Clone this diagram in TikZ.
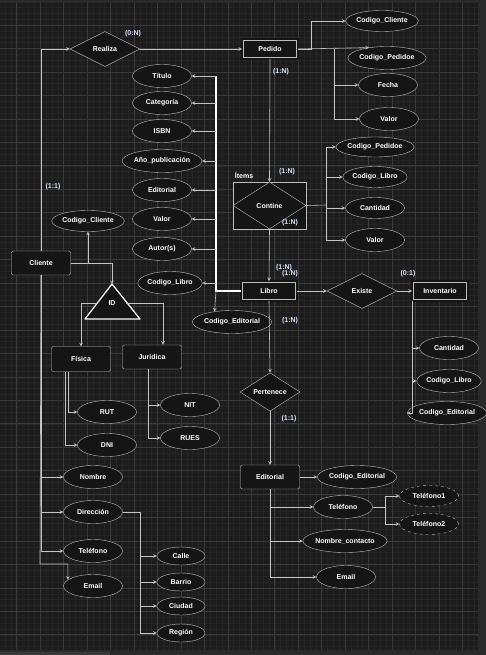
\documentclass[tikz,border=0pt]{standalone}
\usepackage{fontspec}
\setmainfont{Liberation Sans}
\usetikzlibrary{shapes.geometric}

\definecolor{framebg}{HTML}{2A2A2A}
\definecolor{canvasbg}{HTML}{1C1C1C}
\definecolor{gridmajor}{HTML}{3A3A3A}
\definecolor{gridminor}{HTML}{252525}
\definecolor{scrollbar}{HTML}{3A3A3A}
\definecolor{shapefill}{HTML}{151515}
\definecolor{shapeline}{HTML}{BDBDBD}
\definecolor{edgeline}{HTML}{C4C4C4}
\definecolor{cardtext}{HTML}{DCE4FF}

\begin{document}
\begin{tikzpicture}[>=stealth, x=1pt, y=-1pt,
    lbl/.style={font=\fontsize{7}{8}\selectfont\bfseries, text=white},
    entity/.style={lbl, draw=shapeline, fill=shapefill, rounded corners=2pt, minimum width=59pt, minimum height=24pt, inner sep=0pt},
    weak/.style={lbl, draw=shapeline, double=shapefill, double distance=2.4pt, fill=shapefill, minimum width=55.5pt, minimum height=19.5pt, inner sep=0pt},
    attr/.style={lbl, ellipse, draw=shapeline, fill=shapefill, minimum width=59pt, minimum height=23pt, inner sep=0pt},
    subattr/.style={attr, minimum width=48pt, minimum height=18pt},
    multi/.style={attr, dashed, minimum height=21pt},
    rel/.style={lbl, diamond, draw=shapeline, fill=shapefill, minimum width=70pt, minimum height=35pt, inner sep=0pt},
    card/.style={lbl, text=cardtext},
    link/.style={->, draw=edgeline, line width=0.6pt},
    trunk/.style={draw=white, line width=1.2pt}]

    % 1. Canvas with the grid
    \useasboundingbox (0,0) rectangle (486,655);
    \fill[framebg] (0,0) rectangle (486,655);
    \fill[canvasbg] (0,3) rectangle (478,650);
    \fill[scrollbar] (0,652) rectangle (110,655);
    \foreach \k in {2,...,82} \draw[gridminor, line width=0.3pt] ({-6.75+\k*5.8625},3) -- ({-6.75+\k*5.8625},650);
    \foreach \k in {1,...,110} \draw[gridminor, line width=0.3pt] (0,{1.55+\k*5.8625}) -- (478,{1.55+\k*5.8625});
    \foreach \k in {0,...,19} \draw[gridmajor, line width=0.5pt] ({16.7+\k*23.45},3) -- ({16.7+\k*23.45},650);
    \foreach \k in {1,...,27} \draw[gridmajor, line width=0.5pt] (0,{1.55+\k*23.45}) -- (478,{1.55+\k*23.45});

    % 2. Entities
    \node[entity] (cliente) at (41,263) {Cliente};
    \node[weak] (pedido) at (270,49) {Pedido};
    \node[weak] (libro) at (269,291) {Libro};
    \node[weak] (inventario) at (440,291) {Inventario};
    \node[entity] (editorial) at (270,477) {Editorial};
    \node[entity, minimum height=25pt] (fisica) at (81,359) {Física};
    \node[entity] (juridica) at (152,357) {Jurídica};

    % 3. Relationships (Ítems is the associative box round Contine)
    \node[rel] (realiza) at (105,49) {Realiza};
    \node[draw=shapeline, fill=shapefill, minimum width=73pt, minimum height=47pt] (items) at (269.5,205.5) {};
    \node[rel, minimum width=73pt, minimum height=47pt] (contine) at (items) {Contine};
    \node[lbl] (itemslbl) at (244,175) {Ítems};
    \node[rel] (existe) at (362,291) {Existe};
    \node[rel, minimum width=60pt] (pertenece) at (270,392) {Pertenece};

    % 4. The ID triangle under Cliente
    \coordinate (idtop) at (112,284);
    \coordinate (idleft) at (97,303);
    \coordinate (idright) at (127,303);
    \draw[white, line width=1.2pt, fill=shapefill, line join=round] (idtop) -- (140,319) -- (85,319) -- cycle;
    \node[lbl] (id) at (112,303) {ID};

    % 5. Attributes
    \node[attr, minimum height=21pt] (pcodcli) at (382,21) {Codigo\_Cliente};
    \node[attr] (pcodped) at (387,58) {Codigo\_Pedidoe};
    \node[attr] (pfecha) at (388,85) {Fecha};
    \node[attr] (pvalor) at (389,119) {Valor};

    \node[attr, minimum height=20pt] (ccodped) at (375,147) {Codigo\_Pedidoe};
    \node[attr, minimum height=21pt] (ccodlib) at (375,177) {Codigo\_Libro};
    \node[attr, minimum height=21pt] (ccant) at (375,208) {Cantidad};
    \node[attr] (cvalor) at (375,240) {Valor};

    \node[attr] (titulo) at (162,76) {Título};
    \node[attr] (categoria) at (162,103) {Categoría};
    \node[attr] (isbn) at (162,131) {ISBN};
    \node[attr] (anio) at (162,161) {Año\_publicación};
    \node[attr] (leditorial) at (162,190) {Editorial};
    \node[attr] (lvalor) at (162,219) {Valor};
    \node[attr] (autor) at (162,249) {Autor(s)};
    \node[attr] (lcodlib) at (170,283) {Codigo\_Libro};
    \node[attr] (lcodedit) at (232,322) {Codigo\_Editorial};

    \node[attr] (icant) at (449,348) {Cantidad};
    \node[attr] (icodlib) at (449,381) {Codigo\_Libro};
    \node[attr] (icodedit) at (447,413) {Codigo\_Editorial};

    \node[attr] (ecodedit) at (357,477) {Codigo\_Editorial};
    \node[attr] (etel) at (343,507) {Teléfono};
    \node[attr] (enombre) at (345,541) {Nombre\_contacto};
    \node[attr] (eemail) at (346,577) {Email};
    \node[multi] (tel1) at (429,496) {Teléfono1};
    \node[multi] (tel2) at (429,524) {Teléfono2};

    \node[attr, minimum height=21pt] (ccodcli) at (88,221) {Codigo\_Cliente};
    \node[attr] (rut) at (107,412) {RUT};
    \node[attr] (dni) at (107,445) {DNI};
    \node[attr] (nit) at (190,405) {NIT};
    \node[attr] (rues) at (190,438) {RUES};

    \node[attr] (nombre) at (93,477) {Nombre};
    \node[attr] (direccion) at (93,512) {Dirección};
    \node[attr] (ctel) at (93,551) {Teléfono};
    \node[attr] (cemail) at (93,586) {Email};
    \node[subattr] (calle) at (181,556) {Calle};
    \node[subattr] (barrio) at (181,582) {Barrio};
    \node[subattr] (ciudad) at (181,606) {Ciudad};
    \node[subattr] (region) at (181,633) {Región};

    % 6. Junction points
    \coordinate (pj) at (311,49);
    \coordinate (pk) at (334,49);
    \coordinate (cj) at (326,205);
    \coordinate (lj) at (216,291);
    \coordinate (ej) at (270,577);
    \coordinate (tj) at (385,507);
    \coordinate (cbend) at (40,564);
    \coordinate (dj) at (140,512);

    % 7. Connectors
    \draw[link] (cliente.north) |- (realiza.west);
    \draw[link] (realiza.east) -- (pedido.west);
    \draw[link] (pedido.east) -- (pj) |- (pcodcli.west);
    \draw[link] (pedido.east) -- (pcodped.150);
    \draw[link] (pk) |- (pfecha.west);
    \draw[link] (pk) |- (pvalor.west);
    \draw[link] (pedido.south) -- (items.north);

    \draw[draw=edgeline, line width=0.6pt] (contine.east) -- (cj);
    \draw[link] (cj) |- (ccodped.west);
    \draw[link] (cj) |- (ccodlib.west);
    \draw[link] (cj) |- (ccant.west);
    \draw[link] (cj) |- (cvalor.west);
    \draw[link] (contine.south) -- (libro.north);

    \draw[trunk] (libro.west) -- (lj) -- (titulo.east -| lj);
    \foreach \a in {titulo, categoria, isbn, anio, leditorial, lvalor, autor, lcodlib}
        \draw[link] (\a.east -| lj) -- (\a.east);
    \draw[link] (lj) -- (lcodedit.149);

    \draw[link] (libro.east) -- (existe.west);
    \draw[link] (existe.east) -- (inventario.west);
    \draw[link] (inventario.south west) |- (icant.west);
    \draw[link] (inventario.south west) |- (icodlib.west);
    \draw[link] (inventario.south west) |- (icodedit.west);

    \draw[link] (libro.south) -- (pertenece.north);
    \draw[link] (pertenece.south) -- (editorial.north);
    \draw[link] (editorial.east) -- (ecodedit.west);
    \draw[draw=edgeline, line width=0.6pt] (editorial.south) -- (ej);
    \draw[link] (etel.west -| ej) -- (etel.west);
    \draw[link] (enombre.west -| ej) -- (enombre.west);
    \draw[link] (ej) -- (eemail.west);
    \draw[draw=edgeline, line width=0.6pt] (etel.east) -- (tj);
    \draw[link] (tj) |- (tel1.west);
    \draw[link] (tj) |- (tel2.west);

    \draw[link] (cliente.east) -| (ccodcli.south);
    \draw[link] (cliente.east) -| (idtop);
    \draw[link] (idleft) -| (fisica.north);
    \draw[link] ([xshift=-1pt]idright) -| ([xshift=11pt]juridica.north);
    \draw[link] ([xshift=-13pt]fisica.south) |- (rut.west);
    \draw[link] ([xshift=-16pt]fisica.south) |- (dni.west);
    \draw[link] ([xshift=-4pt]juridica.south) |- (nit.west);
    \draw[link] ([xshift=-4pt]juridica.south) |- (rues.west);

    \draw[link] (cliente.south) |- (nombre.west);
    \draw[link] (cliente.south) |- (direccion.west);
    \draw[link] (cliente.south) |- (ctel.west);
    \draw[link] (cliente.south) -- (cbend) -| (cemail.166);
    \draw[link] (direccion.east) -- (dj) |- (calle.west);
    \draw[link] (dj) |- (barrio.west);
    \draw[link] (dj) |- (ciudad.west);
    \draw[link] (dj) |- (region.west);

    % 8. Cardinalities
    \node[card] (cardrealiza) at (133,34) {(0:N)};
    \node[card] (cardcliente) at (53,187) {(1:1)};
    \node[card] (cardpedido) at (281,72) {(1:N)};
    \node[card] (cardcontin) at (287,172) {(1:N)};
    \node[card] (cardcontout) at (290,223) {(1:N)};
    \node[card] (cardlibroa) at (284,268) {(1:N)};
    \node[card] (cardlibrob) at (290,274) {(1:N)};
    \node[card] (cardinv) at (408,274) {(0:1)};
    \node[card] (cardpert) at (290,321) {(1:N)};
    \node[card] (cardedit) at (289,419) {(1:1)};

\end{tikzpicture}
\end{document}
